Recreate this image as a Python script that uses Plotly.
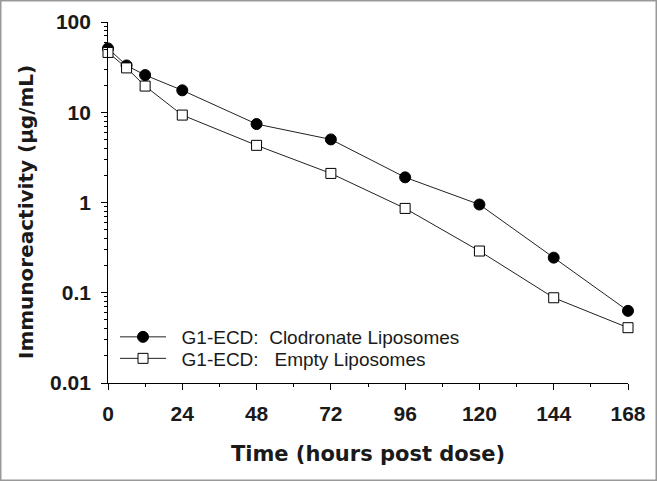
import plotly.graph_objects as go

time_h = [0, 6, 12, 24, 48, 72, 96, 120, 144, 168]
clodronate = [51, 33, 25.8, 17.5, 7.4, 5.0, 1.9, 0.95, 0.245, 0.063]
empty = [46, 31, 19.5, 9.3, 4.3, 2.1, 0.86, 0.29, 0.088, 0.041]
x_ticks = [0, 24, 48, 72, 96, 120, 144, 168]
x_minor = [12, 36, 60, 84, 108, 132, 156]
y_ticks = [0.01, 0.1, 1, 10, 100]
y_tick_text = ["0.01", "0.1", "1", "10", "100"]
y_minor = [m * d for d in [0.01, 0.1, 1, 10] for m in range(2, 10)]

W, H = 657, 481
L, R, T, B = 108, 29, 22, 98
pw, ph = W - L - R, H - T - B

TXT = "#1a1a1a"
ARIAL = "Liberation Sans, Arial, sans-serif"
WIDE = "DejaVu Sans, Verdana, sans-serif"

fig = go.Figure()
fig.add_trace(go.Scatter(
    x=time_h, y=clodronate, mode="lines+markers",
    name="\u00a0\u00a0G1-ECD:\u00a0\u00a0Clodronate Liposomes",
    line=dict(color="#222222", width=1),
    marker=dict(symbol="circle", size=11, color="black", line=dict(color="black", width=1)),
    cliponaxis=False, legend="legend"))
fig.add_trace(go.Scatter(
    x=time_h, y=empty, mode="lines+markers",
    name="\u00a0\u00a0G1-ECD:\u00a0\u00a0\u00a0Empty Liposomes",
    line=dict(color="#222222", width=1),
    marker=dict(symbol="square", size=10, color="white", line=dict(color="black", width=1)),
    cliponaxis=False, legend="legend2"))

leg_common = dict(xanchor="left", yanchor="middle", bgcolor="rgba(0,0,0,0)",
                  font=dict(size=19, color=TXT, family=ARIAL), itemwidth=46)

fig.update_layout(
    width=W, height=H,
    margin=dict(l=L, r=R, t=T, b=B, autoexpand=False),
    paper_bgcolor="white", plot_bgcolor="white",
    font=dict(family=ARIAL, color=TXT),
    showlegend=True,
    legend=dict(x=(115 - L) / pw, y=(H - B - 337) / ph, **leg_common),
    legend2=dict(x=(115 - L) / pw, y=(H - B - 358.5) / ph, **leg_common),
    xaxis=dict(range=[0, 168], tickmode="array", tickvals=x_ticks,
               ticktext=[f"<b>{v}</b>" for v in x_ticks],
               showline=True, linecolor="black", linewidth=1, mirror=False,
               ticks="outside", ticklen=6, tickcolor="black", showgrid=False, zeroline=False,
               automargin=False, ticklabelstandoff=6,
               minor=dict(tickmode="array", tickvals=x_minor, ticks="outside", ticklen=3,
                          tickcolor="black", showgrid=False),
               tickfont=dict(size=21, color=TXT, family=ARIAL),
               title=dict(text="<b>Time (hours post dose)</b>",
                          font=dict(size=21, color=TXT, family=WIDE), standoff=22)),
    yaxis=dict(type="log", range=[-2, 2], tickmode="array", tickvals=y_ticks,
               ticktext=[f"<b>{t}</b>\u00a0" for t in y_tick_text],
               showline=True, linecolor="black", linewidth=1, mirror=False,
               ticks="outside", ticklen=6, tickcolor="black", showgrid=False, zeroline=False,
               automargin=False,
               minor=dict(tickmode="array", tickvals=y_minor, ticks="outside", ticklen=3,
                          tickcolor="black", showgrid=False),
               tickfont=dict(size=21, color=TXT, family=ARIAL)),
)

fig.add_annotation(text="<b>Immunoreactivity (µg/mL)</b>", textangle=-90,
                   xref="paper", yref="paper", x=(26 - L) / pw, y=(H - B - 212) / ph,
                   xanchor="center", yanchor="middle", showarrow=False,
                   font=dict(size=20, color=TXT, family=WIDE))

fig.add_shape(type="rect", xref="paper", yref="paper",
              x0=(0.75 - L) / pw, x1=(W - 0.75 - L) / pw,
              y0=-(B - 0.75) / ph, y1=(T - 0.75) / ph + 1,
              line=dict(color="#999999", width=1.5), layer="below")

fig.write_html("out.html", config={"displayModeBar": False},
               post_script="document.body.style.margin='0';")
